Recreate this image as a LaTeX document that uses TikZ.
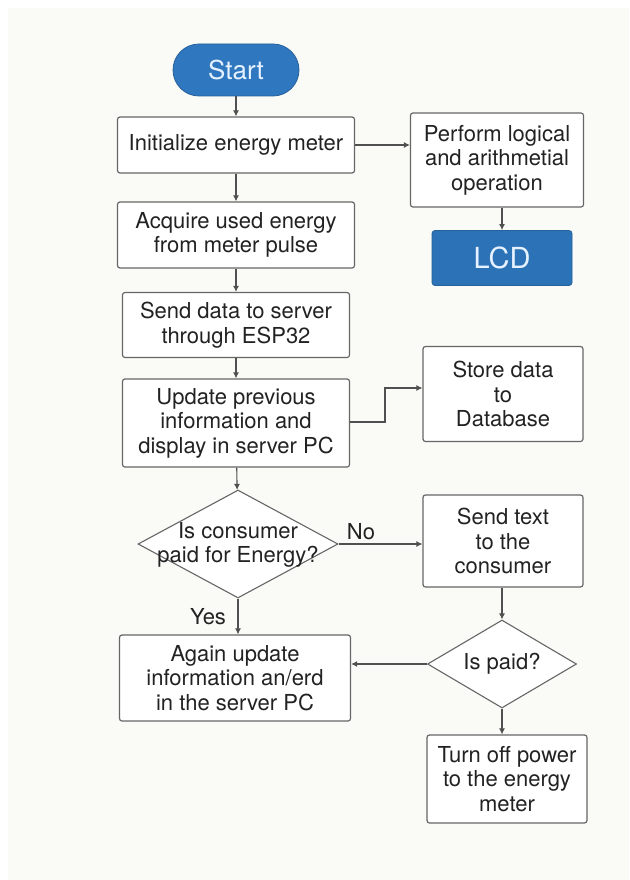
\documentclass[tikz,border=0pt]{standalone}
\usepackage{fontspec}
\setmainfont{TeX Gyre Heros}
\usetikzlibrary{shapes.geometric,arrows.meta}
\definecolor{bg}{HTML}{FAFAF6}
\definecolor{startblue}{HTML}{2F78C0}
\definecolor{lcdblue}{HTML}{2B72B6}
\definecolor{lineg}{HTML}{505050}
\definecolor{boxline}{HTML}{666666}
\definecolor{txt}{HTML}{222222}
\definecolor{lighttxt}{HTML}{E6F2FF}
\tikzset{
  stepbox/.style={draw=boxline, line width=1.2pt, rounded corners=2.5pt, fill=white,
    align=center, inner sep=0pt, font=\fontsize{22}{24.5}\selectfont, text=txt},
  decbox/.style={draw=boxline, line width=1.1pt, diamond, fill=white, inner sep=0pt,
    align=center, font=\fontsize{22}{24.5}\selectfont, text=txt},
  conn/.style={draw=lineg, line width=1.1pt, -{Latex[length=6pt,width=6pt]}},
  lbl/.style={font=\fontsize{22}{24.5}\selectfont, text=txt, inner sep=0pt},
}
\begin{document}
\begin{tikzpicture}[x=1pt,y=-1pt]
\useasboundingbox (0,0) rectangle (629,880);
\fill[white] (0,0) rectangle (629,880);
\fill[bg] (8,8) rectangle (629,880);

\node[draw=startblue!80!black, line width=0.8pt, fill=startblue, rounded corners=26pt,
  minimum width=126pt, minimum height=52pt, inner sep=0pt, text=lighttxt,
  font=\fontsize{26}{28}\selectfont] (start) at (236,70) {Start};

\node[stepbox, minimum width=237pt, minimum height=56pt] (init) at (236,145) {Initialize energy meter};
\node[stepbox, minimum width=173pt, minimum height=94pt] (perf) at (497,160) {Perform logical\\and arithmetial\\operation};
\node[draw=lcdblue!85!black, line width=0.8pt, fill=lcdblue, rounded corners=3pt,
  minimum width=140pt, minimum height=55pt, inner sep=0pt, text=lighttxt,
  font=\fontsize{29}{30}\selectfont] (lcd) at (502,258) {LCD};

\node[stepbox, minimum width=237pt, minimum height=66pt] (acq) at (236,235) {Acquire used energy\\from meter pulse};
\node[stepbox, minimum width=227pt, minimum height=65pt] (send) at (236,325) {Send data to server\\through ESP32};
\node[stepbox, minimum width=227pt, minimum height=88pt] (upd) at (236,423) {Update previous\\information and\\display in server PC};
\node[stepbox, minimum width=160pt, minimum height=95pt] (store) at (503,394) {Store data\\to\\Database};

\node[decbox, minimum width=200pt, minimum height=108pt, aspect=1.85] (dec1) at (238,544) {};
\node[lbl, align=center] (dec1t) at (238,545) {Is consumer\\paid for Energy?};
\node[stepbox, minimum width=160pt, minimum height=92pt] (txtc) at (503,541) {Send text\\to the\\consumer};

\node[stepbox, minimum width=231pt, minimum height=86pt] (again) at (235,678) {Again update\\information an/erd\\in the server PC};
\node[decbox, minimum width=149pt, minimum height=88pt, aspect=1.7] (dec2) at (502,664) {};
\node[lbl] (dec2t) at (502,664) {Is paid?};
\node[stepbox, minimum width=160pt, minimum height=88pt] (off) at (507,779) {Turn off power\\to the energy\\meter};

\node[lbl] (nol) at (361,532) {No};
\node[lbl] (yesl) at (208,617) {Yes};

\draw[conn] (start) -- (init);
\draw[conn] (init) -- (acq);
\draw[conn] (acq) -- (send);
\draw[conn] (send) -- (upd);
\draw[conn] (upd) -- (dec1);
\draw[conn] (dec1) -- (again.north -| dec1);
\draw[conn] (init.east) -- (perf.west |- init.east);
\draw[conn] (perf.south -| lcd) -- (lcd);
\coordinate (j1) at (385,422);
\coordinate (j2) at (385,388);
\draw[conn] (upd.east |- j1) -- (j1) -- (j2) -- (store.west |- j2);
\draw[conn] (dec1.east) -- (txtc.west |- dec1.east);
\draw[conn] (txtc.south -| dec2) -- (dec2);
\draw[conn] (dec2.west) -- (again.east |- dec2.west);
\draw[conn] (dec2.south) -- (off.north -| dec2);
\end{tikzpicture}
\end{document}
